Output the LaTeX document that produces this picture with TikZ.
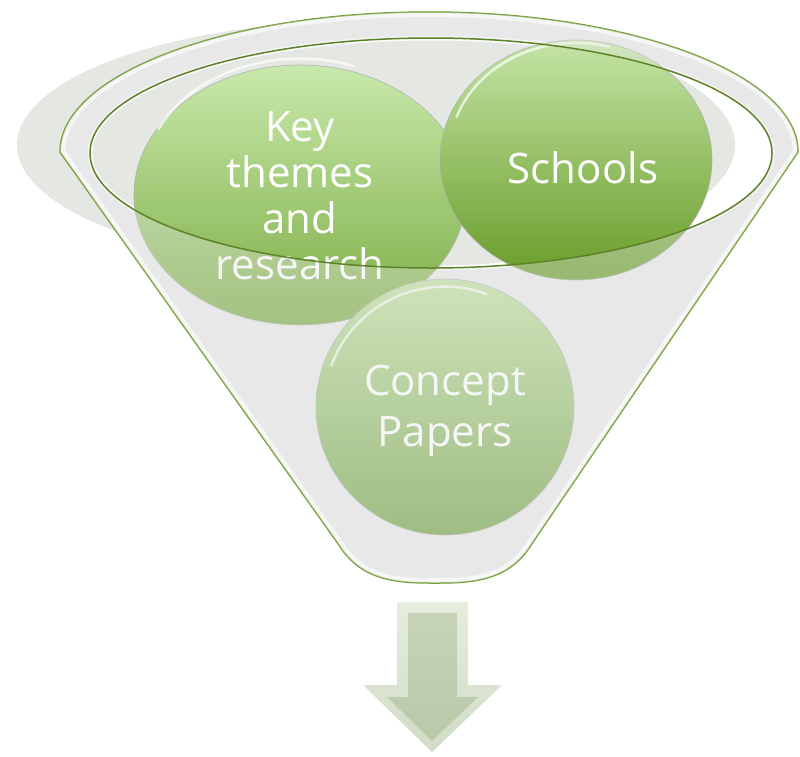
\documentclass[tikz,border=0pt]{standalone}
\usepackage{fontspec}
\setmainfont{Open Sans}

\definecolor{rimgreen}{HTML}{6F9A2E}
\definecolor{ringgreen}{HTML}{5E8228}
\definecolor{shadowgray}{HTML}{E5E8E2}
\definecolor{funnelgray}{HTML}{E8E8E8}

\newcommand{\funnelpath}{(60,152) arc[start angle=180, end angle=360, x radius=369, y radius=140]
  -- (531,545) .. controls (508,582) and (470,583) .. (435,583)
  .. controls (400,583) and (362,582) .. (339,545) -- cycle}
\newcommand{\bowlpath}{(431,153) ellipse [x radius=341, y radius=115]}

\tikzset{
  bubble/.style={draw=black!30, line width=0.6pt},
  label/.style={text=white, align=center, inner sep=0pt},
  gloss/.style={white, opacity=0.7, line width=2.5pt, line cap=round}
}

\begin{document}
\begin{tikzpicture}[x=1pt, y=-1pt]
  \useasboundingbox (0,0) rectangle (800,756);
  % shadow behind the funnel, seen through the bowl
  \fill[shadowgray] (376,145) ellipse [x radius=359, y radius=125];
  % funnel body with the bowl cut out
  \fill[funnelgray, even odd rule] \funnelpath \bowlpath;
  \begin{scope}
    \clip \funnelpath;
    \draw[white, line width=10pt] \funnelpath;
  \end{scope}
  \draw[white, opacity=0.8, line width=5pt] \bowlpath;
  \draw[rimgreen, line width=1.5pt] \funnelpath;
  % the three items
  \shade[bubble, top color={rgb,255:red,200;green,233;blue,171}, bottom color={rgb,255:red,124;green,172;blue,68}]
    (300,195) ellipse [x radius=166, y radius=130];
  \draw[gloss] (300,195) ++(-155:156) arc[start angle=-155, end angle=-70, x radius=156, y radius=122];
  \node[label, font=\fontsize{42}{46}\selectfont] (key) at (300,196) {Key\\themes\\and\\research};
  \shade[bubble, top color={rgb,255:red,196;green,228;blue,165}, bottom color={rgb,255:red,104;green,156;blue,40}]
    (576,160) ellipse [x radius=136, y radius=120];
  \draw[gloss] (576,160) ++(-160:127) arc[start angle=-160, end angle=-75, x radius=127, y radius=112];
  \node[label, font=\fontsize{42}{46}\selectfont] (schools) at (583,168) {Schools};
  \shade[bubble, top color={rgb,255:red,192;green,224;blue,160}, bottom color={rgb,255:red,116;green,164;blue,72}]
    (445,407) ellipse [x radius=129, y radius=128];
  \draw[gloss] (445,407) ++(-160:121) arc[start angle=-160, end angle=-70, x radius=121, y radius=120];
  \node[label, font=\fontsize{42}{51}\selectfont] (concept) at (445,411) {Concept\\Papers};
  % front face of the funnel washes what lies below the bowl
  \fill[funnelgray, opacity=0.37, even odd rule] \funnelpath \bowlpath;
  \draw[ringgreen, line width=1.5pt] \bowlpath;
  % arrow out of the funnel
  \shade[top color={rgb,255:red,230;green,237;blue,222}, bottom color={rgb,255:red,208;green,220;blue,196}]
    (397,602) -- (468,602) -- (468,685) -- (502,685) -- (432,752) -- (363,685) -- (397,685) -- cycle;
  \shade[top color={rgb,255:red,198;green,211;blue,184}, bottom color={rgb,255:red,184;green,200;blue,168}]
    (408,613) -- (457,613) -- (457,697) -- (478,697) -- (432,741) -- (387,697) -- (408,697) -- cycle;
\end{tikzpicture}
\end{document}
